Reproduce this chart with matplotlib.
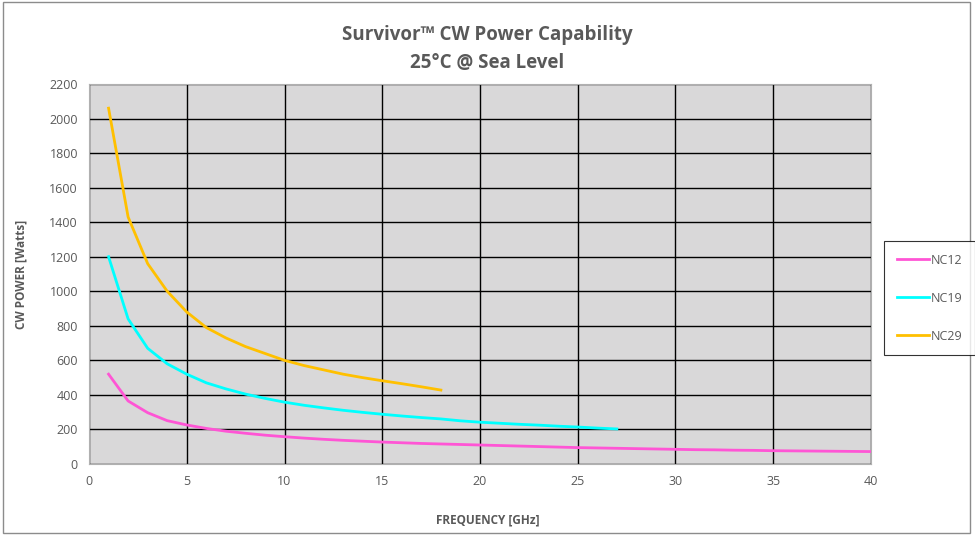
import matplotlib.pyplot as plt
from matplotlib.patches import Rectangle

# frequency points (GHz)
freq_nc12 = list(range(1, 41))
freq_nc19 = list(range(1, 28))
freq_nc29 = list(range(1, 19))

# CW power (Watts)
nc12 = [520, 365, 297, 251, 226, 206, 190, 178, 167, 158,
        150, 143, 137, 132, 127, 123, 119, 116, 113, 110,
        107, 104, 101, 98, 95, 93, 91, 89, 87, 85,
        83, 82, 80, 79, 77, 76, 75, 74, 73, 72]
nc19 = [1200, 840, 670, 580, 520, 470, 435, 405, 380, 358,
        340, 325, 311, 299, 288, 278, 269, 261, 250, 242,
        236, 230, 225, 219, 214, 208, 203]
nc29 = [2060, 1430, 1160, 1000, 880, 790, 730, 680, 640, 600,
        570, 545, 520, 500, 482, 465, 447, 428]

xticks = [0, 5, 10, 15, 20, 25, 30, 35, 40]
yticks = list(range(0, 2201, 200))

plt.rcParams['font.family'] = ['Open Sans', 'DejaVu Sans']
txt = '#595959'

fig = plt.figure(figsize=(9.75, 5.35), dpi=100)
fig.patches.append(Rectangle((0.003, 0.004), 0.992, 0.992, transform=fig.transFigure,
                             fill=False, edgecolor='#8c8c8c', linewidth=1))
ax = fig.add_axes([0.0913, 0.1327, 0.802, 0.7103])
ax.set_facecolor('#d9d8d9')

ax.plot(freq_nc12, nc12, color='#ff55d5', lw=2, label='NC12')
ax.plot(freq_nc19, nc19, color='#00ffff', lw=2, label='NC19')
ax.plot(freq_nc29, nc29, color='#ffc000', lw=2, label='NC29')

ax.set_xlim(0, 40)
ax.set_ylim(0, 2200)
ax.set_xticks(xticks)
ax.set_yticks(yticks)
ax.grid(True, color='black', lw=1)
ax.set_axisbelow(True)
ax.tick_params(length=0, labelsize=9, colors=txt, pad=8)
for s in ax.spines.values():
    s.set_color('#b0b0b0')

fig.text(0.5, 0.935, 'Survivor™ CW Power Capability', ha='center', va='center',
         fontsize=13.5, fontweight='bold', color=txt)
fig.text(0.5, 0.883, '25°C @ Sea Level', ha='center', va='center',
         fontsize=13.5, fontweight='bold', color=txt)
fig.text(0.5, 0.028, 'FREQUENCY [GHz]', ha='center', va='center',
         fontsize=8.5, fontweight='bold', color=txt)
fig.text(0.022, 0.488, 'CW POWER [Watts]', ha='center', va='center', rotation=90,
         fontsize=8.5, fontweight='bold', color=txt)

leg = fig.legend(loc='upper left', bbox_to_anchor=(0.907, 0.549), frameon=True,
                 fancybox=False, fontsize=9, labelspacing=2.0, handlelength=2.6,
                 handletextpad=0.1, borderpad=1.0, borderaxespad=0)
leg.get_frame().set_edgecolor('black')
leg.get_frame().set_linewidth(0.8)
for t in leg.get_texts():
    t.set_color(txt)

plt.savefig('out.png', dpi=100)
